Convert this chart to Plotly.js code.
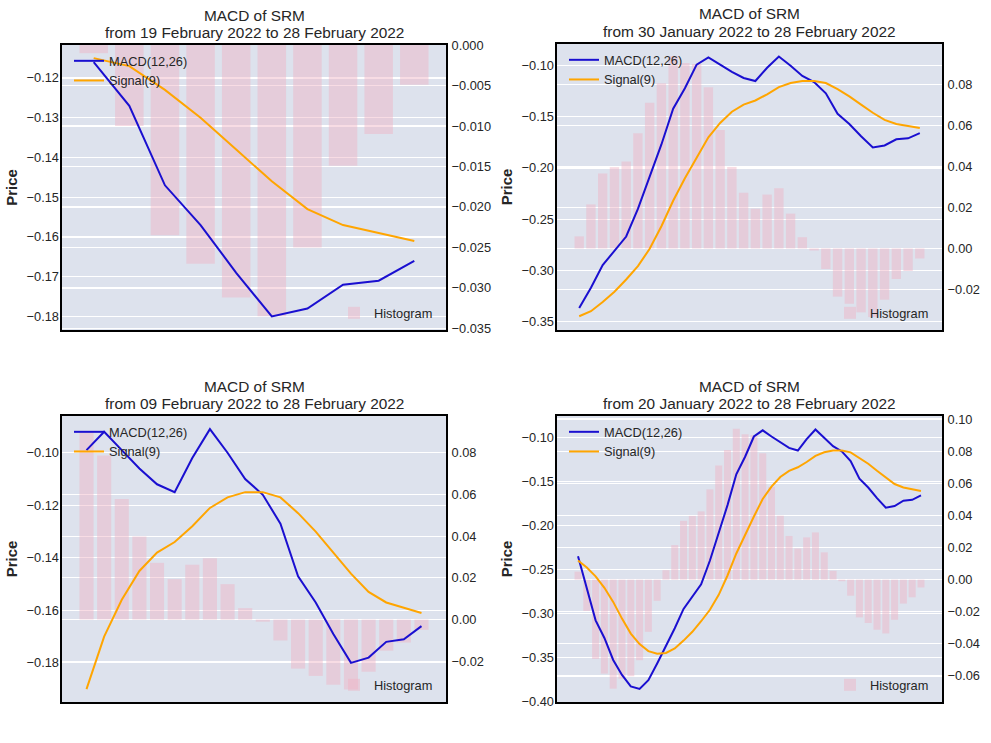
<!DOCTYPE html>
<html><head><meta charset="utf-8">
<script src="https://cdn.plot.ly/plotly-3.0.1.min.js"></script>
<style>html,body{margin:0;padding:0;background:#fff}#chart{width:991px;height:743px}</style>
</head><body><div id="chart"></div>
<script>
// ---- data ----
const dates = [
 '2022-01-20','2022-01-21','2022-01-22','2022-01-23','2022-01-24','2022-01-25','2022-01-26','2022-01-27','2022-01-28','2022-01-29',
 '2022-01-30','2022-01-31','2022-02-01','2022-02-02','2022-02-03','2022-02-04','2022-02-05','2022-02-06','2022-02-07','2022-02-08',
 '2022-02-09','2022-02-10','2022-02-11','2022-02-12','2022-02-13','2022-02-14','2022-02-15','2022-02-16','2022-02-17','2022-02-18',
 '2022-02-19','2022-02-20','2022-02-21','2022-02-22','2022-02-23','2022-02-24','2022-02-25','2022-02-26','2022-02-27','2022-02-28'];
const macd = [
 -0.235,-0.270,-0.308,-0.328,-0.353,-0.370,-0.383,-0.386,-0.376,-0.357,
 -0.337,-0.317,-0.295,-0.281,-0.267,-0.240,-0.209,-0.177,-0.142,-0.122,
 -0.099,-0.092,-0.099,-0.106,-0.112,-0.115,-0.102,-0.091,-0.100,-0.110,
 -0.116,-0.127,-0.147,-0.157,-0.169,-0.180,-0.178,-0.172,-0.171,-0.166];
const signal = [
 -0.240,-0.248,-0.258,-0.271,-0.287,-0.306,-0.323,-0.335,-0.343,-0.346,
 -0.345,-0.340,-0.331,-0.321,-0.309,-0.296,-0.279,-0.257,-0.232,-0.210,
 -0.190,-0.170,-0.156,-0.145,-0.138,-0.134,-0.128,-0.121,-0.117,-0.115,
 -0.115,-0.117,-0.123,-0.130,-0.138,-0.146,-0.153,-0.157,-0.159,-0.161];
const histogram = [
 0.0050,-0.0195,-0.0494,-0.0585,-0.0679,-0.0617,-0.0602,-0.0502,-0.0325,-0.0132,
 0.0059,0.0215,0.0366,0.0397,0.0425,0.0562,0.0711,0.0807,0.0940,0.0905,
 0.0900,0.0787,0.0578,0.0398,0.0272,0.0194,0.0263,0.0294,0.0170,0.0055,
 -0.0010,-0.0100,-0.0235,-0.0270,-0.0312,-0.0335,-0.0250,-0.0149,-0.0110,-0.0049];
const panelDays = [10, 30, 20, 40];
const panelStart = ['19 February 2022','30 January 2022','09 February 2022','20 January 2022'];
const panelEnd = '28 February 2022';

// tick values (labels are these values printed with a true minus sign)
const leftTicks = [
  [-0.18,-0.17,-0.16,-0.15,-0.14,-0.13,-0.12],
  [-0.35,-0.30,-0.25,-0.20,-0.15,-0.10],
  [-0.18,-0.16,-0.14,-0.12,-0.10],
  [-0.40,-0.35,-0.30,-0.25,-0.20,-0.15,-0.10]];
const rightTicks = [
  [-0.035,-0.030,-0.025,-0.020,-0.015,-0.010,-0.005,0.000],
  [-0.02,0.00,0.02,0.04,0.06,0.08],
  [-0.02,0.00,0.02,0.04,0.06,0.08],
  [-0.06,-0.04,-0.02,0.00,0.02,0.04,0.06,0.08,0.10]];
const rightDecimals = [3, 2, 2, 2];

// ---- layout / style ----
const W = 991, H = 743;
const px = x => x / W, py = y => 1 - y / H;
const rects = [ {l:62,r:446,t:45,b:330}, {l:557,r:942,t:44,b:330},
                {l:62,r:446,t:416,b:702}, {l:557,r:942,t:416,b:702} ];
const leftRange = [[-0.1834,-0.1117],[-0.3584,-0.0788],[-0.1949,-0.0860],[-0.4008,-0.0757]];
const rightRange = [[-0.0352,0.00001],[-0.0398,0.0998],[-0.0395,0.0976],[-0.0762,0.1019]];
const fmt = (v, d) => (v < -1e-12 ? '\u2212' : '') + Math.abs(v).toFixed(d);

const FONT = 'Liberation Sans, Arial, Helvetica, sans-serif';
const TXT = '#262626';
const FS = 12.8;
const BLUE = '#1a0fd0', ORANGE = '#FFA500', PINK = 'rgba(240,178,195,0.45)';

const traces = [];
const layout = {
  width: W, height: H, margin: {l:0,r:0,t:0,b:0},
  paper_bgcolor: '#ffffff', plot_bgcolor: '#DDE2ED',
  font: {family: FONT, size: FS, color: TXT},
  showlegend: true, hovermode: false, annotations: []
};

panelDays.forEach((n, k) => {
  const i = k + 1;
  const rc = rects[k];
  const xs = dates.slice(-n);
  const xa = 'x' + (i === 1 ? '' : i);
  const yBarId = 2*i - 1, yLineId = 2*i;
  const yb = 'y' + (yBarId === 1 ? '' : yBarId);
  const yl = 'y' + yLineId;
  const legLines = 'legend' + (yBarId === 1 ? '' : yBarId);
  const legHist = 'legend' + yLineId;

  traces.push({type:'bar', x: xs, y: histogram.slice(-n), name:'Histogram',
    marker:{color: PINK, line:{width:0}}, width: 0.8,
    xaxis: xa, yaxis: yb, legend: legHist});
  traces.push({type:'scatter', mode:'lines', x: xs, y: macd.slice(-n), name:'MACD(12,26)',
    line:{color: BLUE, width: 2}, xaxis: xa, yaxis: yl, legend: legLines});
  traces.push({type:'scatter', mode:'lines', x: xs, y: signal.slice(-n), name:'Signal(9)',
    line:{color: ORANGE, width: 2}, xaxis: xa, yaxis: yl, legend: legLines});

  const m = 0.05 * (n - 0.2);
  layout['xaxis' + (i === 1 ? '' : i)] = {
    type:'category', domain:[px(rc.l), px(rc.r)], range:[-0.4 - m, n - 0.6 + m],
    anchor: yb, showticklabels:false, ticks:'', showgrid:false, zeroline:false,
    showline:true, mirror:true, linecolor:'#000', linewidth:2
  };
  layout['yaxis' + (yBarId === 1 ? '' : yBarId)] = {
    domain:[py(rc.b), py(rc.t)], anchor: xa, side:'right', range: rightRange[k],
    tickmode:'array', tickvals: rightTicks[k], ticktext: rightTicks[k].map(v => fmt(v, rightDecimals[k])),
    ticks:'', showgrid:true, gridcolor:'#ffffff', gridwidth:1.2, zeroline:false,
    showline:true, mirror:true, linecolor:'#000', linewidth:2,
    ticklabelstandoff: 1, tickfont:{size:FS, color:TXT, family:FONT}
  };
  layout['yaxis' + yLineId] = {
    overlaying: yb, anchor: xa, side:'left', range: leftRange[k],
    tickmode:'array', tickvals: leftTicks[k], ticktext: leftTicks[k].map(v => fmt(v, 2)),
    ticks:'', showgrid:true, gridcolor:'#ffffff', gridwidth:1.2, zeroline:false,
    showline:false, ticklabelstandoff: 2, tickfont:{size:FS, color:TXT, family:FONT},
    title:{text:'Price', standoff: 5, font:{size:15, color:TXT, family:FONT, weight:'bold'}}
  };
  layout[legLines] = {x: px(rc.l + 7), y: py(rc.t + 1), xanchor:'left', yanchor:'top',
    bgcolor:'rgba(0,0,0,0)', borderwidth:0, font:{size:FS, color:TXT, family:FONT},
    tracegroupgap: 0, itemwidth: 30};
  layout[legHist] = {x: px(rc.r - 8), y: py(rc.b - 2), xanchor:'right', yanchor:'bottom',
    bgcolor:'rgba(0,0,0,0)', borderwidth:0, font:{size:FS, color:TXT, family:FONT}};

  const cx = px((rc.l + rc.r) / 2);
  layout.annotations.push({
    xref:'paper', yref:'paper', x: cx, y: py(rc.t - 30), xanchor:'center', yanchor:'middle',
    showarrow:false, text: 'MACD of SRM', font:{size:15.4, color:TXT, family:FONT}
  });
  layout.annotations.push({
    xref:'paper', yref:'paper', x: cx, y: py(rc.t - 13), xanchor:'center', yanchor:'middle',
    showarrow:false, text: 'from ' + panelStart[k] + ' to ' + panelEnd,
    font:{size:15.4, color:TXT, family:FONT}
  });
});

Plotly.newPlot('chart', traces, layout, {displayModeBar:false, staticPlot:true});
</script>
</body></html>
